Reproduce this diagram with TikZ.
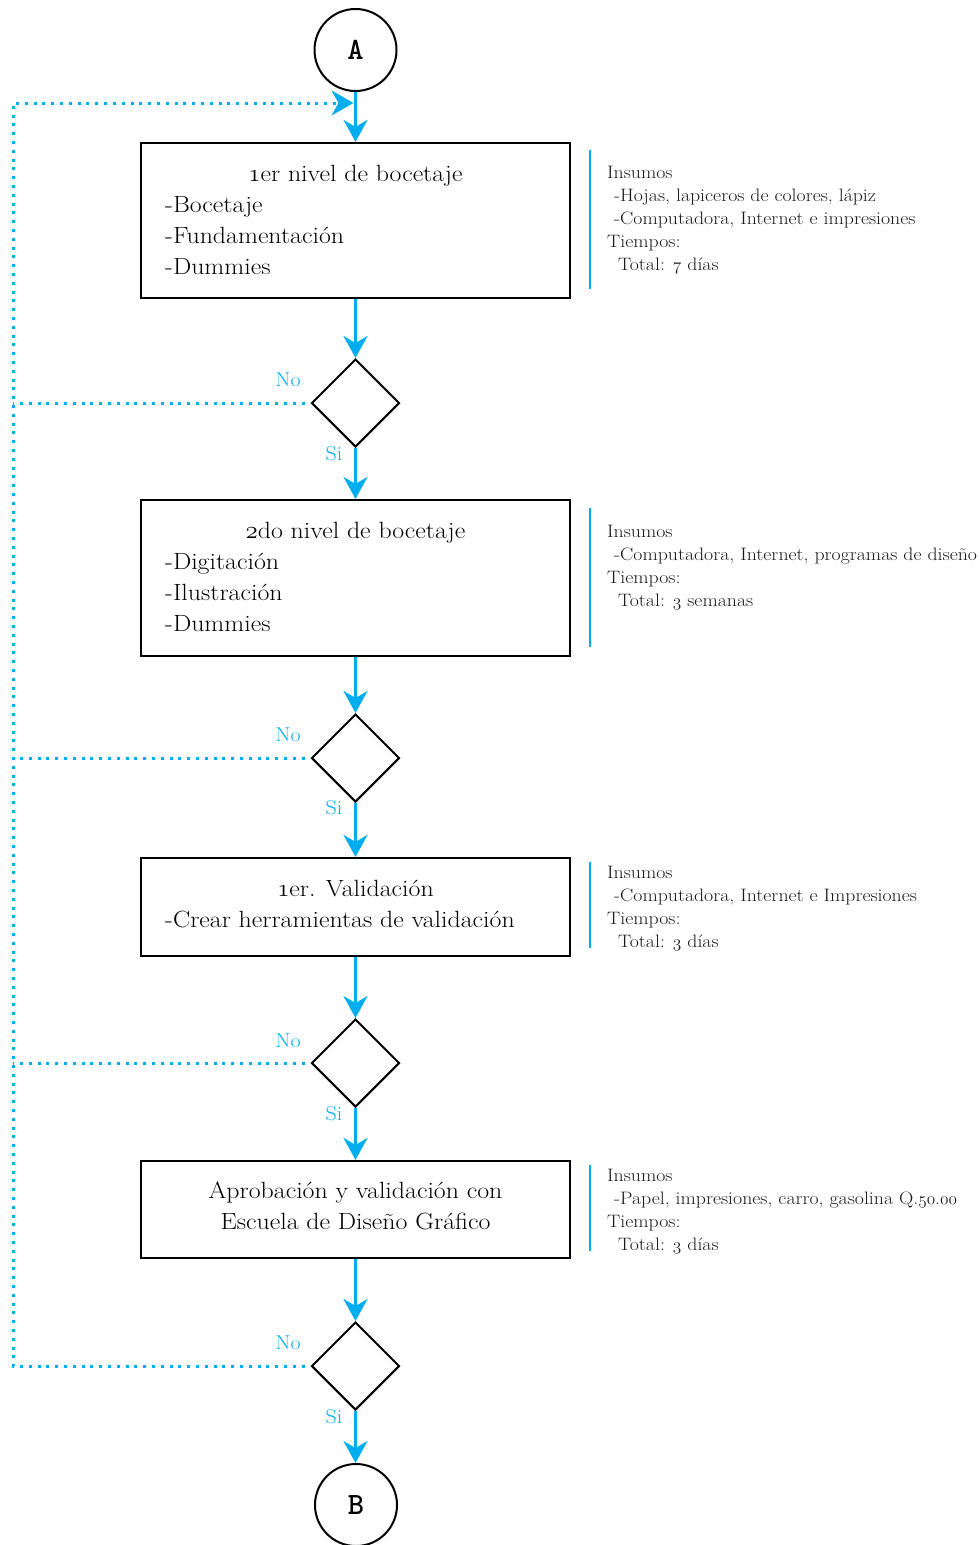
\documentclass[tikz,border=0pt]{standalone}
\usepackage{fontspec}
\usetikzlibrary{arrows.meta,shapes.geometric}
\newfontfamily\wideserif{Latin Modern Roman}[FakeStretch=1.1]
\definecolor{flowblue}{HTML}{00AEEF}
\definecolor{boxtxt}{HTML}{000000}
\definecolor{sidetxt}{HTML}{1A1A1A}
\newcommand\osn[1]{{\fontencoding{OML}\fontfamily{lmm}\fontseries{m}\fontshape{it}\selectfont #1}}
\newcommand\leftlines[1]{\vtop{\halign{##\hfil\cr#1\crcr}}}
\newcommand\centerlines[1]{\vtop{\halign{\hfil##\hfil\cr#1\crcr}}}
\tikzset{
  procbox/.style={draw=black, line width=2.2pt, minimum width=429pt, inner sep=0pt},
  decision/.style={diamond, draw=black, line width=2pt, minimum width=88pt, minimum height=88pt, inner sep=0pt, aspect=1},
  conn/.style={circle, draw=black, line width=2pt, minimum size=82pt, inner sep=0pt, font=\ttfamily\bfseries\fontsize{31}{31}\selectfont},
  flow/.style={draw=flowblue, line width=3pt, -{Stealth[length=22pt,width=24pt,inset=7pt]}},
  loopline/.style={draw=flowblue, line width=3pt, dash pattern=on 3pt off 5.8pt},
  sideline/.style={draw=flowblue, line width=2.5pt},
  yesno/.style={text=flowblue, inner sep=0pt, font=\wideserif\fontsize{20}{20}\selectfont},
  boxtitle/.style={text=boxtxt, inner sep=0pt, anchor=base, font=\wideserif\fontsize{23.5}{31}\selectfont},
  boxlines/.style={text=boxtxt, inner sep=0pt, anchor=base west, font=\wideserif\fontsize{23.5}{31}\selectfont},
  sidenote/.style={text=sidetxt, inner sep=0pt, anchor=base west, font=\wideserif\fontsize{18}{23.1}\selectfont},
}
\begin{document}
\begin{tikzpicture}[x=1pt,y=-1pt]
\useasboundingbox (0,0) rectangle (980,1545);

% terminals
\node[conn] (A) at (355.5,50) {A};
\node[conn] (B) at (356,1505) {B};

% process boxes
\node[procbox, minimum height=155pt] (b1) at (355.5,220.5) {};
\node[procbox, minimum height=156pt] (b2) at (355.5,578) {};
\node[procbox, minimum height=98pt] (b3) at (355.5,907) {};
\node[procbox, minimum height=97pt] (b4) at (355.5,1209.5) {};

% decisions
\node[decision] (d1) at (355.5,403) {};
\node[decision] (d2) at (355.5,758) {};
\node[decision] (d3) at (355.5,1063) {};
\node[decision] (d4) at (355.5,1366) {};

% box texts
\node[boxtitle] (t1) at (355.5,181) {\osn{1}er nivel de bocetaje};
\node[boxlines] (l1) at (165,212) {\leftlines{-Bocetaje\cr-Fundamentación\cr-Dummies}};
\node[boxtitle] (t2) at (355.5,538) {\osn{2}do nivel de bocetaje};
\node[boxlines] (l2) at (165,569) {\leftlines{-Digitación\cr-Ilustración\cr-Dummies}};
\node[boxtitle] (t3) at (355.5,896) {\osn{1}er. Validación};
\node[boxlines] (l3) at (165,927) {\leftlines{-Crear herramientas de validación}};
\node[boxtitle] (t4) at (355.5,1198) {\centerlines{Aprobación y validación con\cr Escuela de Diseño Gráfico}};

% side notes
\draw[sideline] (590,150) -- (590,289);
\node[sidenote] (s1) at (607,178) {\leftlines{Insumos\cr\kern7pt-Hojas, lapiceros de colores, lápiz\cr\kern7pt-Computadora, Internet e impresiones\cr Tiempos:\cr\kern11pt Total: \osn{7} días}};
\draw[sideline] (590,508) -- (590,647);
\node[sidenote] (s2) at (607,537) {\leftlines{Insumos\cr\kern7pt-Computadora, Internet, programas de diseño\cr Tiempos:\cr\kern11pt Total: \osn{3} semanas}};
\draw[sideline] (590,862) -- (590,948);
\node[sidenote] (s3) at (607,878.5) {\leftlines{Insumos\cr\kern7pt-Computadora, Internet e Impresiones\cr Tiempos:\cr\kern11pt Total: \osn{3} días}};
\draw[sideline] (590,1165) -- (590,1251);
\node[sidenote] (s4) at (607,1181) {\leftlines{Insumos\cr\kern7pt-Papel, impresiones, carro, gasolina Q.\osn{50}.\osn{00}\cr Tiempos:\cr\kern11pt Total: \osn{3} días}};

% main flow
\draw[flow] (A) -- (b1);
\draw[flow] (b1) -- (d1);
\draw[flow] (d1) -- (b2);
\draw[flow] (b2) -- (d2);
\draw[flow] (d2) -- (b3);
\draw[flow] (b3) -- (d3);
\draw[flow] (d3) -- (b4);
\draw[flow] (b4) -- (d4);
\draw[flow] (d4) -- (d4.south |- B.north);

% No loops
\coordinate (loopend) at (353.5,103);
\coordinate (c1) at (13,403);
\coordinate (c2) at (13,758);
\coordinate (c3) at (13,1063);
\coordinate (c4) at (13,1366);
\coordinate (ctop) at (13,103);
\draw[loopline, -{Stealth[length=22pt,width=25pt,inset=7pt]}] ([xshift=-6pt]d4.west) -- (c4) -- (ctop) -- (loopend);
\draw[loopline] ([xshift=-6pt]d1.west) -- (c1);
\draw[loopline] ([xshift=-6pt]d2.west) -- (c2);
\draw[loopline] ([xshift=-6pt]d3.west) -- (c3);

% labels
\node[yesno] (no1) at (288,380) {No};
\node[yesno] (si1) at (334,454) {Si};
\node[yesno] (no2) at (288,735) {No};
\node[yesno] (si2) at (334,808) {Si};
\node[yesno] (no3) at (288,1041) {No};
\node[yesno] (si3) at (334,1114) {Si};
\node[yesno] (no4) at (288,1343) {No};
\node[yesno] (si4) at (334,1417) {Si};
\end{tikzpicture}
\end{document}
